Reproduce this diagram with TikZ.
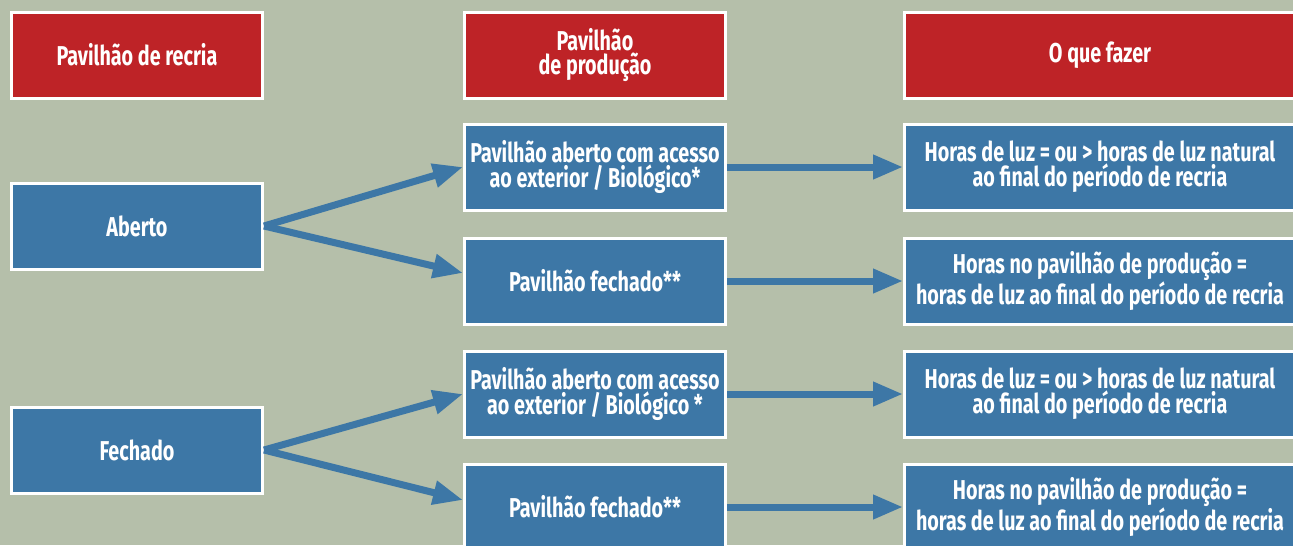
\documentclass[tikz,border=0pt]{standalone}
\usepackage{fontspec}
\setmainfont{Fira Sans}[FakeStretch=0.725]
\usepackage{xcolor}
\usepackage{tikz}
\usetikzlibrary{arrows.meta}

\definecolor{sage}{HTML}{B5BFAA}
\definecolor{hdrred}{HTML}{BE2327}
\definecolor{boxblue}{HTML}{3D77A6}

\tikzset{
  cell/.style={draw=white, line width=0.06cm, text=white, font=\bfseries\fontsize{15.5}{14.2}\selectfont,
    align=center, inner sep=2pt, minimum height=1.72cm},
  hdr/.style={cell, fill=hdrred},
  box/.style={cell, fill=boxblue},
  arr/.style={draw=boxblue, line width=0.14cm, -{Triangle[length=0.6cm,width=0.46cm]}}
}

\begin{document}
\begin{tikzpicture}
  \useasboundingbox (0,0) rectangle (25.86,-10.9);
  \fill[sage] (0,0) rectangle (25.86,-10.9);

  % column heads
  \node[hdr,minimum width=5.02cm] (h1) at (2.74,-1.1) {Pavilhão de recria};
  \node[hdr,minimum width=5.22cm] (h2) at (11.9,-1.1) {Pavilhão\\de produção};
  \node[hdr,minimum width=7.82cm] (h3) at (22.0,-1.1) {O que fazer};

  % recria
  \node[box,minimum width=5.02cm] (aberto) at (2.74,-4.52) {Aberto};
  \node[box,minimum width=5.02cm] (fechado) at (2.74,-9.0) {Fechado};

  % producao
  \node[box,minimum width=5.22cm] (p1) at (11.9,-3.34) {Pavilhão aberto com acesso\\ao exterior / Biológico*};
  \node[box,minimum width=5.22cm] (p2) at (11.9,-5.62) {Pavilhão fechado**};
  \node[box,minimum width=5.22cm] (p3) at (11.9,-7.88) {Pavilhão aberto com acesso\\ao exterior / Biológico *};
  \node[box,minimum width=5.22cm] (p4) at (11.9,-10.14) {Pavilhão fechado**};

  % o que fazer
  \node[box,minimum width=7.82cm] (f1) at (22.0,-3.34) {Horas de luz = ou > horas de luz natural\\ao final do período de recria};
  \node[box,minimum width=7.82cm] (f2) at (22.0,-5.62) {Horas no pavilhão de produção =\\horas de luz ao final do período de recria};
  \node[box,minimum width=7.82cm] (f3) at (22.0,-7.88) {Horas de luz = ou > horas de luz natural\\ao final do período de recria};
  \node[box,minimum width=7.82cm] (f4) at (22.0,-10.14) {Horas no pavilhão de produção =\\horas de luz ao final do período de recria};

  \draw[arr] (aberto.east) -- (p1.west);
  \draw[arr] (aberto.east) -- ([yshift=0.16cm]p2.west);
  \draw[arr] (fechado.east) -- (p3.west);
  \draw[arr] (fechado.east) -- ([yshift=0.14cm]p4.west);

  \draw[arr] (p1) -- (f1);
  \draw[arr] (p2) -- (f2);
  \draw[arr] (p3) -- (f3);
  \draw[arr] (p4) -- (f4);
\end{tikzpicture}
\end{document}
